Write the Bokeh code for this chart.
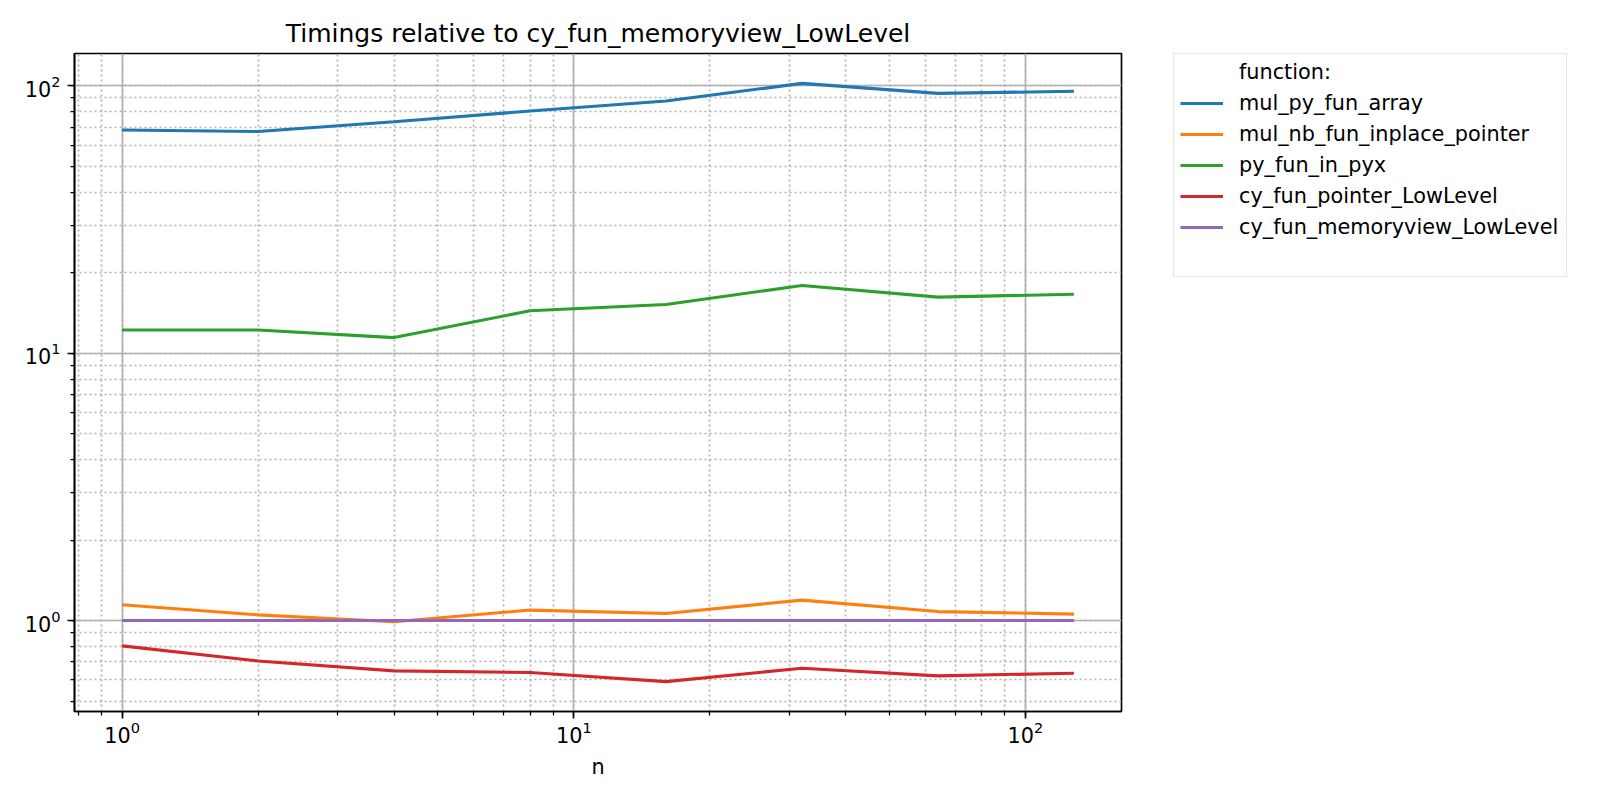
import math
from bokeh.plotting import figure
from bokeh.layouts import row
from bokeh.models import Range1d, Legend, LegendItem
from bokeh.embed import file_html
from bokeh.resources import INLINE

# ---- data ----
n = [1, 2, 4, 8, 16, 32, 64, 128]
legend_title = "function:"
names = ["mul_py_fun_array", "mul_nb_fun_inplace_pointer", "py_fun_in_pyx",
         "cy_fun_pointer_LowLevel", "cy_fun_memoryview_LowLevel"]
mul_py_fun_array = [68.3, 67.4, 73.3, 80.4, 87.7, 102.0, 93.6, 95.3]
mul_nb_fun_inplace_pointer = [1.145, 1.05, 0.99, 1.094, 1.062, 1.192, 1.08, 1.057]
py_fun_in_pyx = [12.2, 12.2, 11.43, 14.4, 15.2, 17.9, 16.2, 16.6]
cy_fun_pointer_LowLevel = [0.804, 0.706, 0.648, 0.639, 0.591, 0.663, 0.621, 0.635]
cy_fun_memoryview_LowLevel = [1.0, 1.0, 1.0, 1.0, 1.0, 1.0, 1.0, 1.0]
colors = ["#1f77b4", "#ff7f0e", "#2ca02c", "#d62728", "#9467bd"]
title_text = "Timings relative to cy_fun_memoryview_LowLevel"
x_label = "n"

series = [mul_py_fun_array, mul_nb_fun_inplace_pointer, py_fun_in_pyx,
          cy_fun_pointer_LowLevel, cy_fun_memoryview_LowLevel]


def log_range(vals, margin=0.05):
    lo = math.log10(min(vals))
    hi = math.log10(max(vals))
    d = (hi - lo) * margin
    return Range1d(10 ** (lo - d), 10 ** (hi + d))


all_y = [v for s in series for v in s]
FONT = "DejaVu Sans"
H = 784
NAN = float("nan")

p = figure(width=1160, height=H, x_axis_type="log", y_axis_type="log",
           x_range=log_range(n), y_range=log_range(all_y),
           output_backend="svg", toolbar_location=None, title=title_text,
           min_border_left=74, min_border_right=39, min_border_top=53,
           min_border_bottom=73)

p.title.text_font = FONT
p.title.text_font_size = "25px"
p.title.text_font_style = "normal"
p.title.text_color = "black"
p.title.align = "center"
p.title.standoff = 12

p.outline_line_color = "black"
p.outline_line_width = 1.67
p.outline_line_alpha = 1.0

for ax in (p.xaxis[0], p.yaxis[0]):
    ax.axis_line_color = "black"
    ax.axis_line_width = 1.67
    ax.major_tick_line_color = "black"
    ax.major_tick_line_width = 1.67
    ax.minor_tick_line_color = "black"
    ax.minor_tick_line_width = 1.25
    ax.major_tick_out = 7
    ax.major_tick_in = 0
    ax.minor_tick_out = 4
    ax.minor_tick_in = 0
    ax.major_label_text_font = FONT
    ax.major_label_text_font_size = "20.8px"
    ax.major_label_text_color = "black"
    ax.major_label_standoff = 7
    ax.axis_label_text_font = FONT
    ax.axis_label_text_font_size = "20.8px"
    ax.axis_label_text_font_style = "normal"
    ax.axis_label_text_color = "black"

p.xaxis.major_label_standoff = 2
p.xaxis.axis_label = x_label
p.xaxis.axis_label_standoff = 9

for g in (p.xgrid[0], p.ygrid[0]):
    g.grid_line_color = "#b0b0b0"
    g.grid_line_width = 1.67
    g.minor_grid_line_color = "#b0b0b0"
    g.minor_grid_line_width = 1.67
    g.minor_grid_line_dash = "2 3"

for ys, c in zip(series, colors):
    p.line(n, ys, line_color=c, line_width=3.1)

# ---- legend panel (separate, axis-free figure) ----
pl = figure(width=424, height=H, output_backend="svg", toolbar_location=None,
            x_axis_location=None, y_axis_location=None,
            x_range=Range1d(0, 1), y_range=Range1d(0, 1),
            min_border=0, min_border_left=0, min_border_right=0,
            min_border_top=0, min_border_bottom=0)
pl.xgrid.visible = False
pl.ygrid.visible = False
pl.outline_line_color = None

dummy = pl.line(x=[NAN], y=[NAN], line_alpha=0)
items = [LegendItem(label=legend_title, renderers=[dummy])]
for name, c in zip(names, colors):
    r = pl.line(x=[NAN], y=[NAN], line_color=c, line_width=3.1)
    items.append(LegendItem(label=name, renderers=[r]))
items.append(LegendItem(label=" ", renderers=[dummy]))

legend = Legend(items=items, location=(13, 434))
legend.label_text_font = FONT
legend.label_text_font_size = "20.8px"
legend.label_text_color = "black"
legend.padding = 6
legend.spacing = 7
legend.glyph_width = 43
legend.glyph_height = 24
legend.label_height = 24
legend.label_standoff = 16
legend.label_width = 321
legend.margin = 0
legend.border_line_color = "#cccccc"
legend.border_line_width = 1.67
legend.background_fill_color = "white"
legend.background_fill_alpha = 0.8
pl.add_layout(legend, "center")

layout = row(p, pl)
open("out.html", "w").write(file_html(layout, INLINE))
